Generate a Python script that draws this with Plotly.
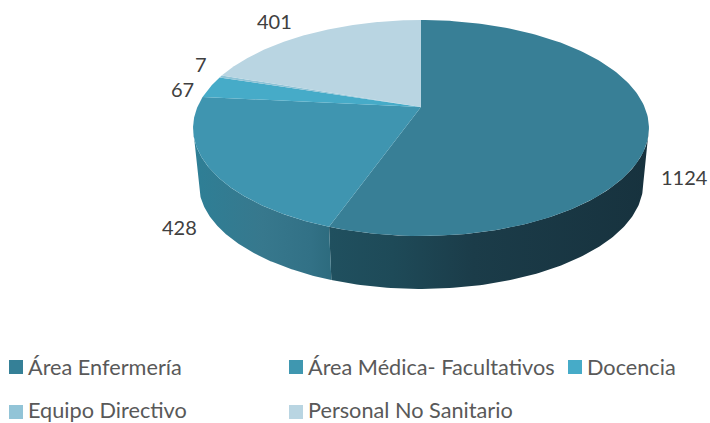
import numpy as np
import plotly.graph_objects as go

categories = ["Área Enfermería", "Área Médica- Facultativos", "Docencia", "Equipo Directivo", "Personal No Sanitario"]
values = [1124, 428, 67, 7, 401]

top_colors = ["#387f96", "#3f95b0", "#46abc8", "#8fc3d6", "#b9d5e2"]
legend_colors = ["#358097", "#3f97b0", "#46abc8", "#92c4d7", "#b9d5e2"]
side_scales = [
    [[0, "#20505f"], [0.2, "#1e4a58"], [0.45, "#1b3c49"], [1, "#17323e"]],
    [[0, "#2e7f96"], [0.5, "#37788d"], [0.85, "#327186"], [1, "#2d6b7e"]],
    [[0, "#2e7f96"], [1, "#2e7f96"]],
    [[0, "#2e7f96"], [1, "#2e7f96"]],
    [[0, "#2e7f96"], [1, "#2e7f96"]],
]

# projection of the disc
CX, APEX_Y, R, B, K = 421.0, 107.0, 223.6, 103.9, 0.1945
BOTTOM_APEX_Y, BOTTOM_SCALE = 163.2, 0.975


def project(theta, apex_y=APEX_Y, scale=1.0):
    w = 1 + K * np.cos(theta)
    return CX + scale * R * np.sin(theta) / w, apex_y - scale * B * np.cos(theta) / w


total = sum(values)
edges = 2 * np.pi * np.concatenate([[0], np.cumsum(values)]) / total
# only the front of the wall shows: from the rightmost to the leftmost point of the rim
front_start = np.arccos(-K)
front_end = 2 * np.pi - front_start

fig = go.Figure()

# side walls
for i in range(len(values)):
    a, b = max(edges[i], front_start), min(edges[i + 1], front_end)
    if b <= a:
        continue
    th = np.linspace(a, b, 120)
    xt, yt = project(th)
    xb, yb = project(th[::-1], BOTTOM_APEX_Y, BOTTOM_SCALE)
    x = np.concatenate([xt, xb])
    y = np.concatenate([yt, yb])
    fig.add_trace(go.Scatter(
        x=x, y=y, mode="lines", fill="toself", line=dict(width=0),
        fillgradient=dict(type="horizontal", colorscale=side_scales[i],
                          start=float(x.min()), stop=float(x.max())),
        hoverinfo="skip", showlegend=False))

# top faces
for i in range(len(values)):
    th = np.linspace(edges[i], edges[i + 1], 160)
    xt, yt = project(th)
    fig.add_trace(go.Scatter(
        x=np.concatenate([[CX], xt, [CX]]), y=np.concatenate([[APEX_Y], yt, [APEX_Y]]),
        mode="lines", fill="toself", fillcolor=top_colors[i],
        line=dict(width=0), hoverinfo="skip", showlegend=False))

# data labels
label_pos = [(659, 177), (160, 227), (169, 89), (193, 64), (255, 21)]
for v, (px, py) in zip(values, label_pos):
    fig.add_annotation(x=px, y=py, text=str(v), showarrow=False, xanchor="left", yanchor="middle",
                       font=dict(family="Lato", size=20, color="#404040"))

# legend
swatch_pos = [(16, 367), (296, 367), (575, 367), (16, 412), (296, 412)]
legend_text_y = [367, 367, 367, 409.5, 409.5]
for name, col, (px, py), ty in zip(categories, legend_colors, swatch_pos, legend_text_y):
    fig.add_trace(go.Scatter(x=[px], y=[py], mode="markers",
                             marker=dict(symbol="square", size=14, color=col, line=dict(width=0)),
                             hoverinfo="skip", showlegend=False))
    fig.add_annotation(x=px + 11, y=ty, text=name, showarrow=False, xanchor="left", yanchor="middle",
                       borderpad=0, font=dict(family="Lato", size=21.7, color="#595959"))

fig.update_layout(
    width=710, height=423, margin=dict(l=0, r=0, t=0, b=0),
    paper_bgcolor="white", plot_bgcolor="white", showlegend=False,
    xaxis=dict(range=[0, 710], visible=False, fixedrange=True),
    yaxis=dict(range=[423, 0], visible=False, fixedrange=True),
)
fig.write_html("out.html", config=dict(displayModeBar=False),
               post_script="document.body.style.margin='0';document.documentElement.style.overflow='hidden';")
